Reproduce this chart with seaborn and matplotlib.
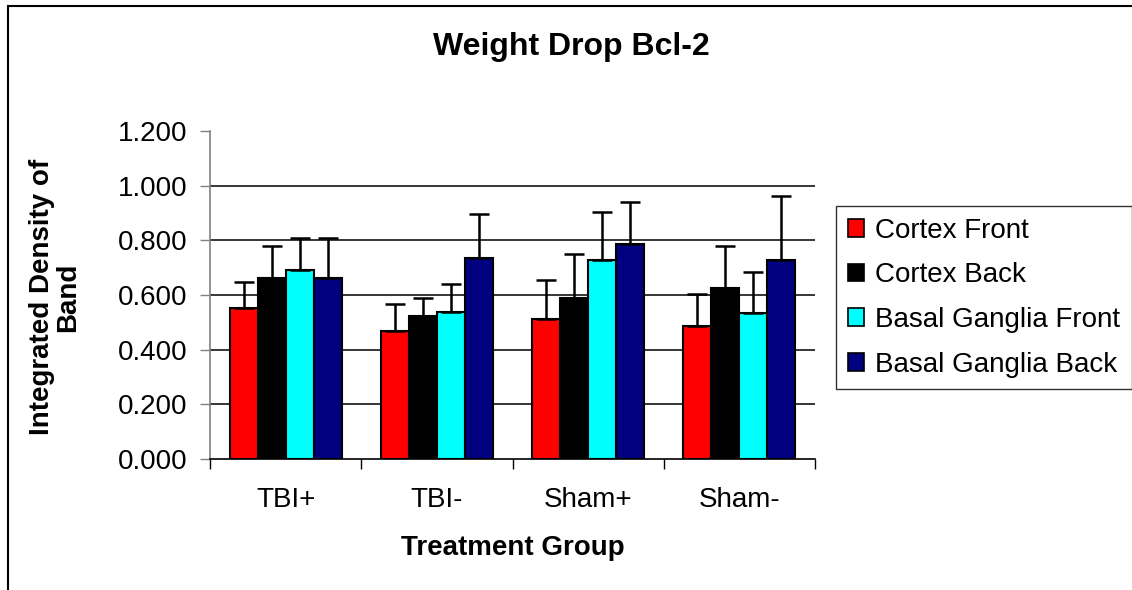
import pandas as pd
import numpy as np
import matplotlib
matplotlib.use("Agg")
import matplotlib.pyplot as plt
import matplotlib.patches as mpatches
import seaborn as sns

groups = ["TBI+", "TBI-", "Sham+", "Sham-"]
regions = ["Cortex Front", "Cortex Back", "Basal Ganglia Front", "Basal Ganglia Back"]
colors = ["#FF0000", "#000000", "#00FFFF", "#000080"]

cortex_front = [0.551, 0.470, 0.514, 0.485]
cortex_back = [0.664, 0.523, 0.589, 0.626]
bg_front = [0.691, 0.536, 0.728, 0.535]
bg_back = [0.664, 0.737, 0.788, 0.728]

cortex_front_err = [0.096, 0.097, 0.140, 0.120]
cortex_back_err = [0.116, 0.065, 0.161, 0.154]
bg_front_err = [0.119, 0.104, 0.177, 0.148]
bg_back_err = [0.146, 0.160, 0.154, 0.236]

means = [cortex_front, cortex_back, bg_front, bg_back]
errs = [cortex_front_err, cortex_back_err, bg_front_err, bg_back_err]

rows = []
for reg, vals in zip(regions, means):
    for g, v in zip(groups, vals):
        rows.append({"group": g, "region": reg, "value": v})
df = pd.DataFrame(rows)

sns.set_style("white")
plt.rcParams["font.family"] = ["Liberation Sans", "DejaVu Sans"]
plt.rcParams["text.color"] = "black"
plt.rcParams["xtick.labelcolor"] = "black"
plt.rcParams["ytick.labelcolor"] = "black"

W, H = 1132, 590
fig = plt.figure(figsize=(W / 100, H / 100), dpi=100)
ax = fig.add_axes([210 / W, 1 - 459 / H, (815 - 210) / W, (459 - 131) / H])

sns.barplot(data=df, x="group", y="value", hue="region", order=groups,
            hue_order=regions, palette=colors, saturation=1, width=0.74,
            edgecolor="black", linewidth=1.5, ax=ax, zorder=3)

# upper error bars only, Excel style
for cont, e in zip(ax.containers, errs):
    xs = [b.get_x() + b.get_width() / 2 for b in cont]
    hs = [b.get_height() for b in cont]
    ax.errorbar(xs, hs, yerr=[np.zeros(len(e)), e], fmt="none", ecolor="black",
                elinewidth=1.8, capsize=7, capthick=1.8, zorder=4)

ax.set_ylim(0, 1.2)
ax.set_xlim(-0.5, 3.5)
ax.set_yticks(np.arange(0, 1.21, 0.2))
ax.set_yticklabels([f"{t:.3f}" for t in np.arange(0, 1.21, 0.2)])
for yv in np.arange(0.2, 1.01, 0.2):
    ax.axhline(yv, color="black", lw=1.1, zorder=1)

ax.set_xticks(np.arange(-0.5, 4, 1), minor=True)
ax.tick_params(axis="x", which="minor", length=7, width=1, color="black", direction="out", bottom=True)
ax.tick_params(axis="x", which="major", length=0, pad=20, labelsize=20, labelcolor="black")
ax.tick_params(axis="y", length=7, width=1, color="#808080", direction="out", left=True,
               pad=9, labelsize=20, labelcolor="black")

for s in ["top", "right"]:
    ax.spines[s].set_visible(False)
ax.spines["left"].set_color("#808080")
ax.spines["left"].set_linewidth(1.2)
ax.spines["bottom"].set_color("black")
ax.spines["bottom"].set_linewidth(1.2)

ax.set_xlabel("")
ax.set_ylabel("")
fig.text(513 / W, 1 - 548 / H, "Treatment Group", ha="center", va="center",
         fontsize=20, fontweight="bold", color="black")
fig.text(55 / W, 1 - 297 / H, "Integrated Density of\nBand", ha="center", va="center",
         rotation=90, fontsize=20, fontweight="bold", multialignment="center",
         linespacing=1.0, color="black")
fig.text(571 / W, 1 - 47 / H, "Weight Drop Bcl-2", ha="center", va="center",
         fontsize=23, fontweight="bold", color="black")

handles, labels = ax.get_legend_handles_labels()
ax.legend_.remove()
leg = fig.legend(handles, labels, loc="upper left",
                 bbox_to_anchor=(836 / W, 1 - 206 / H), bbox_transform=fig.transFigure,
                 borderaxespad=0, fontsize=20, frameon=True, fancybox=False,
                 edgecolor="black", handlelength=0.6, handleheight=0.6,
                 handletextpad=0.4, labelspacing=0.67, borderpad=0.42,
                 labelcolor="black")
leg.get_frame().set_linewidth(1.0)
for h in leg.legend_handles:
    h.set_edgecolor("black")
    h.set_linewidth(1.2)

# outer chart border (only left and top visible)
fig.patches.append(mpatches.Rectangle((8 / W, -0.1), 2, 1 - 6 / H + 0.1,
                                      transform=fig.transFigure, fill=False,
                                      edgecolor="black", lw=1.5))

fig.savefig("out.png", dpi=100)
plt.close(fig)
